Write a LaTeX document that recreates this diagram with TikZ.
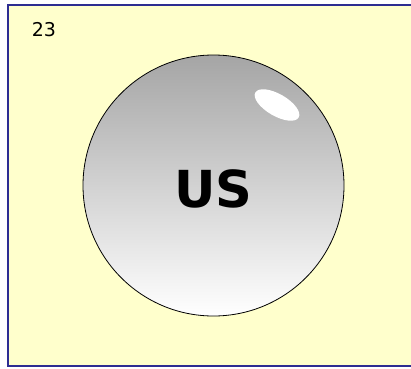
\documentclass[tikz,border=0pt]{standalone}
\usepackage{fontspec}
\setmainfont{DejaVu Sans}
\definecolor{frameblue}{RGB}{45,45,145}
\definecolor{paper}{RGB}{255,255,204}
\definecolor{bubblegray}{RGB}{165,165,165}

\begin{document}
\begin{tikzpicture}[
  x=1pt,y=1pt,
  panel/.style={draw=frameblue,line width=2.5pt,fill=paper},
  bubblestyle/.style={circle,draw=black,line width=0.8pt,minimum size=261pt,inner sep=0pt,
    top color=bubblegray,bottom color=white},
  bigword/.style={font=\fontsize{51}{51}\selectfont\bfseries},
  tag/.style={font=\fontsize{19}{19}\selectfont}
]
  \useasboundingbox (0,0) rectangle (411,368);
  \draw[panel] (8,2) rectangle (430,363);
  \node[tag] (number) at (44,338) {23};
  \node[bubblestyle] (bubble) at (213.5,182.5) {};
  \node[bigword] (country) at ([yshift=-3pt]bubble.center) {US};
  \coordinate (glint) at (277,263);
  \fill[white,rotate around={-30:(glint)}] (glint) ellipse [x radius=25, y radius=11];
\end{tikzpicture}
\end{document}
